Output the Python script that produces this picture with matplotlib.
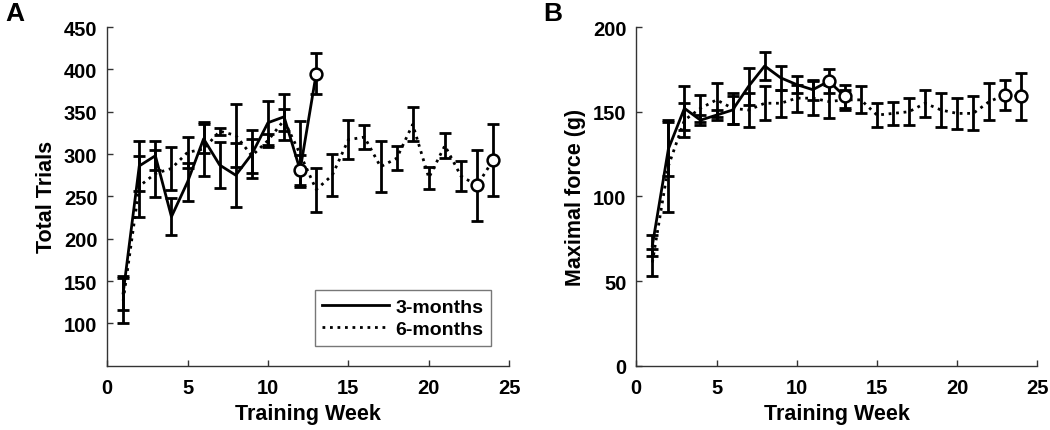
import numpy as np
import matplotlib
matplotlib.use("Agg")
import matplotlib.pyplot as plt

# ---- data ----
weeks_3mo = np.arange(1, 14)
weeks_6mo = np.arange(1, 25)

# Panel A: total trials
trials_3mo = [136, 286, 298, 226, 267, 318, 287, 275, 300, 337, 344, 281, 395]
trials_3mo_err = [20, 30, 17, 22, 22, 17, 27, 38, 28, 26, 27, 18, 24]
trials_6mo = [127, 262, 277, 283, 302, 306, 327, 322, 298, 316, 340, 300, 258,
              275, 317, 320, 285, 295, 335, 272, 310, 274, 263, 293]
trials_6mo_err = [27, 36, 28, 25, 18, 32, 4, 37, 20, 8, 13, 39, 26,
                  25, 23, 14, 30, 14, 20, 13, 15, 18, 42, 43]

# Panel B: maximal force (g)
force_3mo = [71, 128, 152, 145, 148, 151, 165, 177, 170, 166, 163, 168, 159]
force_3mo_err = [6, 16, 13, 3, 3, 8, 11, 8, 7, 5, 6, 7, 7]
force_6mo = [61, 118, 145, 152, 157, 152, 151, 155, 155, 158, 158, 156, 157,
             157, 148, 149, 150, 155, 151, 149, 149, 156, 160, 159]
force_6mo_err = [8, 27, 10, 8, 10, 9, 10, 10, 8, 8, 10, 10, 6,
                 8, 7, 7, 8, 8, 10, 9, 10, 11, 9, 14]

# weeks drawn with open circles
circ_weeks_3mo = [12, 13]
circ_weeks_6mo = [23, 24]

plt.rcParams['font.family'] = ['Liberation Sans', 'DejaVu Sans']
plt.rcParams['font.weight'] = 'bold'

fig = plt.figure(figsize=(10.5, 4.31), dpi=100)
axA = fig.add_axes([0.102, 0.149, 0.383, 0.786])
axB = fig.add_axes([0.606, 0.149, 0.382, 0.786])

dotted = (0, (1, 1.7))


def draw_series(ax, weeks, mean, err, style, label, circ_weeks):
    mean = np.asarray(mean)
    ax.errorbar(weeks, mean, yerr=err, fmt='none', ecolor='black',
                elinewidth=2.0, capsize=4.5, capthick=2.0, zorder=2)
    ax.plot(weeks, mean, linestyle=style, color='black', lw=2.0,
            label=label, zorder=3)
    idx = [list(weeks).index(w) for w in circ_weeks]
    ax.plot(np.asarray(weeks)[idx], mean[idx], 'o', ms=8.5, mfc='white',
            mec='black', mew=1.8, zorder=4)


def style_axes(ax):
    for s in ['top', 'right']:
        ax.spines[s].set_visible(False)
    for s in ['left', 'bottom']:
        ax.spines[s].set_linewidth(1.0)
        ax.spines[s].set_color('#333333')
    ax.tick_params(direction='in', length=4, width=1.0, labelsize=14.5,
                   color='#333333', pad=7)
    ax.tick_params(axis='x', pad=9)
    ax.set_xlim(0, 25)
    ax.set_xticks([0, 5, 10, 15, 20, 25])
    ax.set_xlabel('Training Week', fontsize=15.5, fontweight='bold', labelpad=4)
    for lbl in ax.get_xticklabels() + ax.get_yticklabels():
        lbl.set_fontweight('bold')


# Panel A
draw_series(axA, weeks_3mo, trials_3mo, trials_3mo_err, '-', '3-months', circ_weeks_3mo)
draw_series(axA, weeks_6mo, trials_6mo, trials_6mo_err, dotted, '6-months', circ_weeks_6mo)
axA.set_ylim(50, 450)
axA.set_yticks(np.arange(100, 451, 50))
style_axes(axA)
axA.set_ylabel('Total Trials', fontsize=15.5, fontweight='bold', labelpad=5)
leg = axA.legend(loc='lower right', bbox_to_anchor=(0.955, 0.059),
                 borderaxespad=0, handlelength=3.4, handletextpad=0.35,
                 borderpad=0.4, labelspacing=0.25, fancybox=False, framealpha=1,
                 edgecolor='#777777', prop={'weight': 'bold', 'size': 14})
leg.get_frame().set_linewidth(1.0)

# Panel B
draw_series(axB, weeks_3mo, force_3mo, force_3mo_err, '-', '3-months', circ_weeks_3mo)
draw_series(axB, weeks_6mo, force_6mo, force_6mo_err, dotted, '6-months', circ_weeks_6mo)
axB.set_ylim(0, 200)
axB.set_yticks([0, 50, 100, 150, 200])
style_axes(axB)
axB.set_ylabel('Maximal force (g)', fontsize=15.5, fontweight='bold', labelpad=5)

fig.text(0.005, 0.995, 'A', fontsize=19, fontweight='bold', va='top', ha='left')
fig.text(0.517, 0.995, 'B', fontsize=19, fontweight='bold', va='top', ha='left')

fig.savefig('out.png', dpi=100)
